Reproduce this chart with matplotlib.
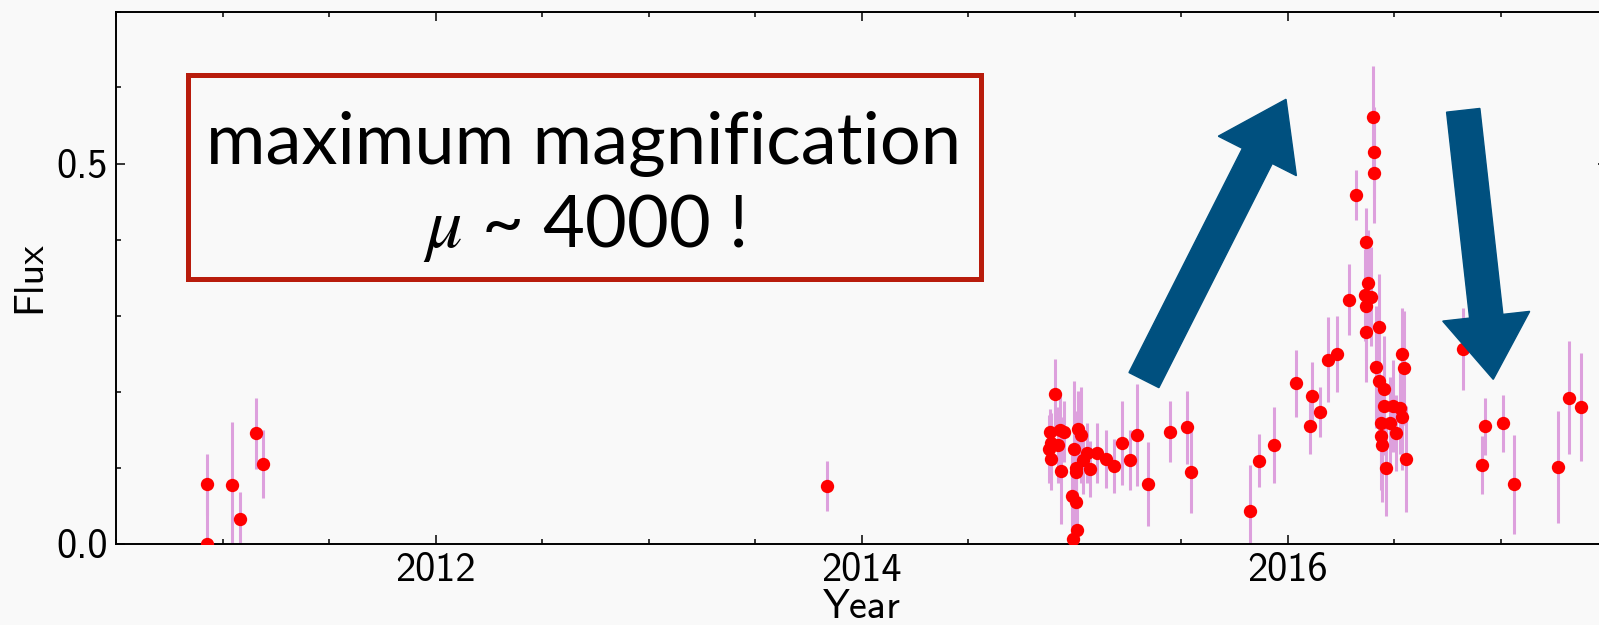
import matplotlib
matplotlib.use('Agg')
import matplotlib.pyplot as plt
from matplotlib.patches import FancyArrow, Rectangle
from matplotlib.transforms import IdentityTransform
from matplotlib.ticker import MultipleLocator, FormatStrFormatter

# light curve
year = [2010.926, 2010.926, 2011.043, 2011.082, 2011.157, 2011.189, 2013.837,
        2014.882, 2014.885, 2014.888, 2014.890, 2014.910, 2014.921, 2014.932,
        2014.935, 2014.952, 2014.989, 2014.995, 2014.998, 2015.006, 2015.007,
        2015.007, 2015.010, 2015.018, 2015.030, 2015.041, 2015.057, 2015.073,
        2015.107, 2015.148, 2015.187, 2015.222, 2015.259, 2015.295, 2015.346,
        2015.450, 2015.529, 2015.548,
        2015.825, 2015.868, 2015.938, 2016.038, 2016.105, 2016.113, 2016.154,
        2016.192, 2016.231, 2016.287, 2016.323, 2016.364, 2016.369, 2016.369,
        2016.369, 2016.380, 2016.392, 2016.400, 2016.405, 2016.406, 2016.415,
        2016.428, 2016.431, 2016.439, 2016.440, 2016.444, 2016.455, 2016.455,
        2016.462, 2016.481, 2016.497, 2016.508, 2016.528, 2016.536, 2016.539,
        2016.547, 2016.556, 2016.825, 2016.911, 2016.926, 2017.011, 2017.062,
        2017.270, 2017.323, 2017.378]
flux = [0.000, 0.078, 0.077, 0.032, 0.145, 0.105, 0.076,
        0.124, 0.147, 0.132, 0.111, 0.197, 0.130, 0.149,
        0.096, 0.147, 0.062, 0.006, 0.124, 0.094, 0.100,
        0.054, 0.018, 0.151, 0.143, 0.110, 0.119, 0.098,
        0.119, 0.111, 0.102, 0.132, 0.110, 0.143, 0.078,
        0.147, 0.153, 0.094,
        0.043, 0.109, 0.130, 0.211, 0.154, 0.194, 0.173,
        0.242, 0.250, 0.321, 0.459, 0.327, 0.397, 0.312,
        0.278, 0.343, 0.325, 0.561, 0.515, 0.487, 0.232,
        0.285, 0.214, 0.159, 0.141, 0.130, 0.203, 0.181,
        0.099, 0.159, 0.181, 0.146, 0.178, 0.167, 0.250,
        0.231, 0.111, 0.256, 0.103, 0.154, 0.158, 0.078,
        0.101, 0.192, 0.180]
flux_err = [0.080, 0.040, 0.083, 0.036, 0.047, 0.045, 0.033,
            0.045, 0.030, 0.040, 0.040, 0.046, 0.050, 0.050,
            0.070, 0.040, 0.060, 0.060, 0.090, 0.080, 0.060,
            0.070, 0.050, 0.050, 0.063, 0.045, 0.040, 0.037,
            0.040, 0.038, 0.036, 0.055, 0.040, 0.067, 0.055,
            0.040, 0.048, 0.054,
            0.060, 0.035, 0.050, 0.044, 0.036, 0.045, 0.033,
            0.056, 0.050, 0.047, 0.033, 0.060, 0.045, 0.070,
            0.065, 0.070, 0.065, 0.067, 0.060, 0.065, 0.080,
            0.070, 0.070, 0.060, 0.070, 0.075, 0.070, 0.065,
            0.063, 0.060, 0.060, 0.050, 0.060, 0.070, 0.060,
            0.075, 0.070, 0.054, 0.038, 0.037, 0.037, 0.065,
            0.074, 0.074, 0.071]

# annotation arrows (tail -> tip), in data units
arrow_tail = [(2015.326, 0.215), (2016.825, 0.570)]
arrow_tip = [(2015.993, 0.5845), (2016.966, 0.216)]

plt.rcParams['font.family'] = 'cmss10'
plt.rcParams['mathtext.fontset'] = 'stix'

bg = '#f9f9f9'
fig = plt.figure(figsize=(15.99, 6.25), dpi=100, facecolor=bg)
ax = fig.add_axes([116 / 1599, 81.5 / 625, 1491 / 1599, 532 / 625], facecolor=bg)

ax.errorbar(year, flux, yerr=flux_err, fmt='none', ecolor='plum',
            elinewidth=2.2, capsize=0, zorder=2)
ax.plot(year, flux, 'o', color='red', markersize=9.6, markeredgewidth=0, zorder=3)

ax.set_xlim(2010.5, 2017.5)
ax.set_ylim(0, 0.7)
ax.xaxis.set_major_locator(MultipleLocator(2))
ax.xaxis.set_minor_locator(MultipleLocator(0.5))
ax.yaxis.set_major_locator(MultipleLocator(0.5))
ax.yaxis.set_minor_locator(MultipleLocator(0.1))
ax.yaxis.set_major_formatter(FormatStrFormatter('%.1f'))
ax.tick_params(which='both', direction='in', top=True, right=True,
               width=1.1, labelsize=29, pad=6)
ax.tick_params(which='major', length=6.3)
ax.tick_params(which='minor', length=3.6)
for s in ax.spines.values():
    s.set_linewidth(1.4)

ax.set_xlabel('Year', fontsize=29, labelpad=0)
ax.set_ylabel('Flux', fontsize=29, labelpad=6)

# red box with the headline
ax.add_patch(Rectangle((2010.836, 0.348), 3.723, 0.268, fill=False,
                       edgecolor='#b81c0c', linewidth=3.6, zorder=4))
ax.text(2012.697, 0.4994, 'maximum magnification', ha='center', va='baseline',
        family='Lato', fontsize=52, zorder=5)
ax.text(2012.697, 0.3905, r'$\mu$ ~ 4000 !', ha='center', va='baseline',
        family='Lato', fontsize=52, zorder=5)

# big blue arrows, drawn in pixel space so they keep their shape
for (x0, y0), (x1, y1) in zip(arrow_tail, arrow_tip):
    (px0, py0), (px1, py1) = ax.transData.transform([(x0, y0), (x1, y1)])
    arr = FancyArrow(px0, py0, px1 - px0, py1 - py0, width=33.5,
                     head_width=87.5, head_length=63.5,
                     length_includes_head=True, color='#00507f',
                     transform=IdentityTransform(), zorder=6)
    fig.add_artist(arr)

fig.savefig('out.png', dpi=100, facecolor=bg)
